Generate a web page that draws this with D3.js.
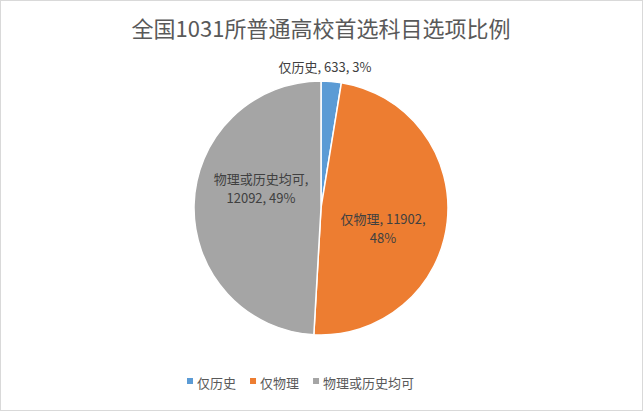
<!DOCTYPE html>
<html><head><meta charset="utf-8">
<script src="https://cdn.jsdelivr.net/npm/d3@7"></script>
<style>body{margin:0;background:#fff}text{font-family:"Noto Sans CJK SC","Noto Sans",sans-serif}</style>
</head><body>
<svg id="chart" width="643" height="411"></svg>
<script>
// Données
const categories = ["仅历史", "仅物理", "物理或历史均可"];
const valeurs = [633, 11902, 12092];
const couleurs = ["#5B9BD5", "#ED7D31", "#A5A5A5"];

const svg = d3.select("#chart");
svg.append("rect").attr("x", 0.5).attr("y", 0.5).attr("width", 642).attr("height", 410)
    .attr("fill", "#fff").attr("stroke", "#d9d9d9");

// Titre
svg.append("text").attr("x", 321).attr("y", 37).attr("text-anchor", "middle")
    .style("font-size", "22px").style("fill", "#595959").text("全国1031所普通高校首选科目选项比例");

const total = d3.sum(valeurs);
const pie = d3.pie().sort(null)(valeurs);
const arc = d3.arc().innerRadius(0).outerRadius(127);
const g = svg.append("g").attr("transform", "translate(321,208)");
g.selectAll("path").data(pie).enter().append("path")
    .attr("d", arc).attr("fill", (d, i) => couleurs[i])
    .attr("stroke", "#fff").attr("stroke-width", 1.5);

// Étiquettes
const pct = v => Math.round(v / total * 100) + "%";
const etiquettes = [
    { x: 4, y: -136, lignes: [`${categories[0]}, ${valeurs[0]}, ${pct(valeurs[0])}`] },
    { x: 62, y: 16, lignes: [`${categories[1]}, ${valeurs[1]},`, pct(valeurs[1])] },
    { x: -60, y: -24, lignes: [`${categories[2]},`, `${valeurs[2]}, ${pct(valeurs[2])}`] }
];
etiquettes.forEach(e => {
    e.lignes.forEach((l, j) => {
        g.append("text").attr("x", e.x).attr("y", e.y + j * 19).attr("text-anchor", "middle")
            .style("font-size", "13px").style("fill", "#404040").text(l);
    });
});

// Légende
const leg = svg.append("g").attr("transform", "translate(0,383)");
let x = 187;
categories.forEach((c, i) => {
    leg.append("rect").attr("x", x).attr("y", -5).attr("width", 6).attr("height", 6).attr("fill", couleurs[i]);
    const t = leg.append("text").attr("x", x + 10).attr("y", 1).attr("dominant-baseline", "middle")
        .style("font-size", "13px").style("fill", "#595959").text(c);
    x += 10 + t.node().getComputedTextLength() + 14;
});
</script>
</body></html>
